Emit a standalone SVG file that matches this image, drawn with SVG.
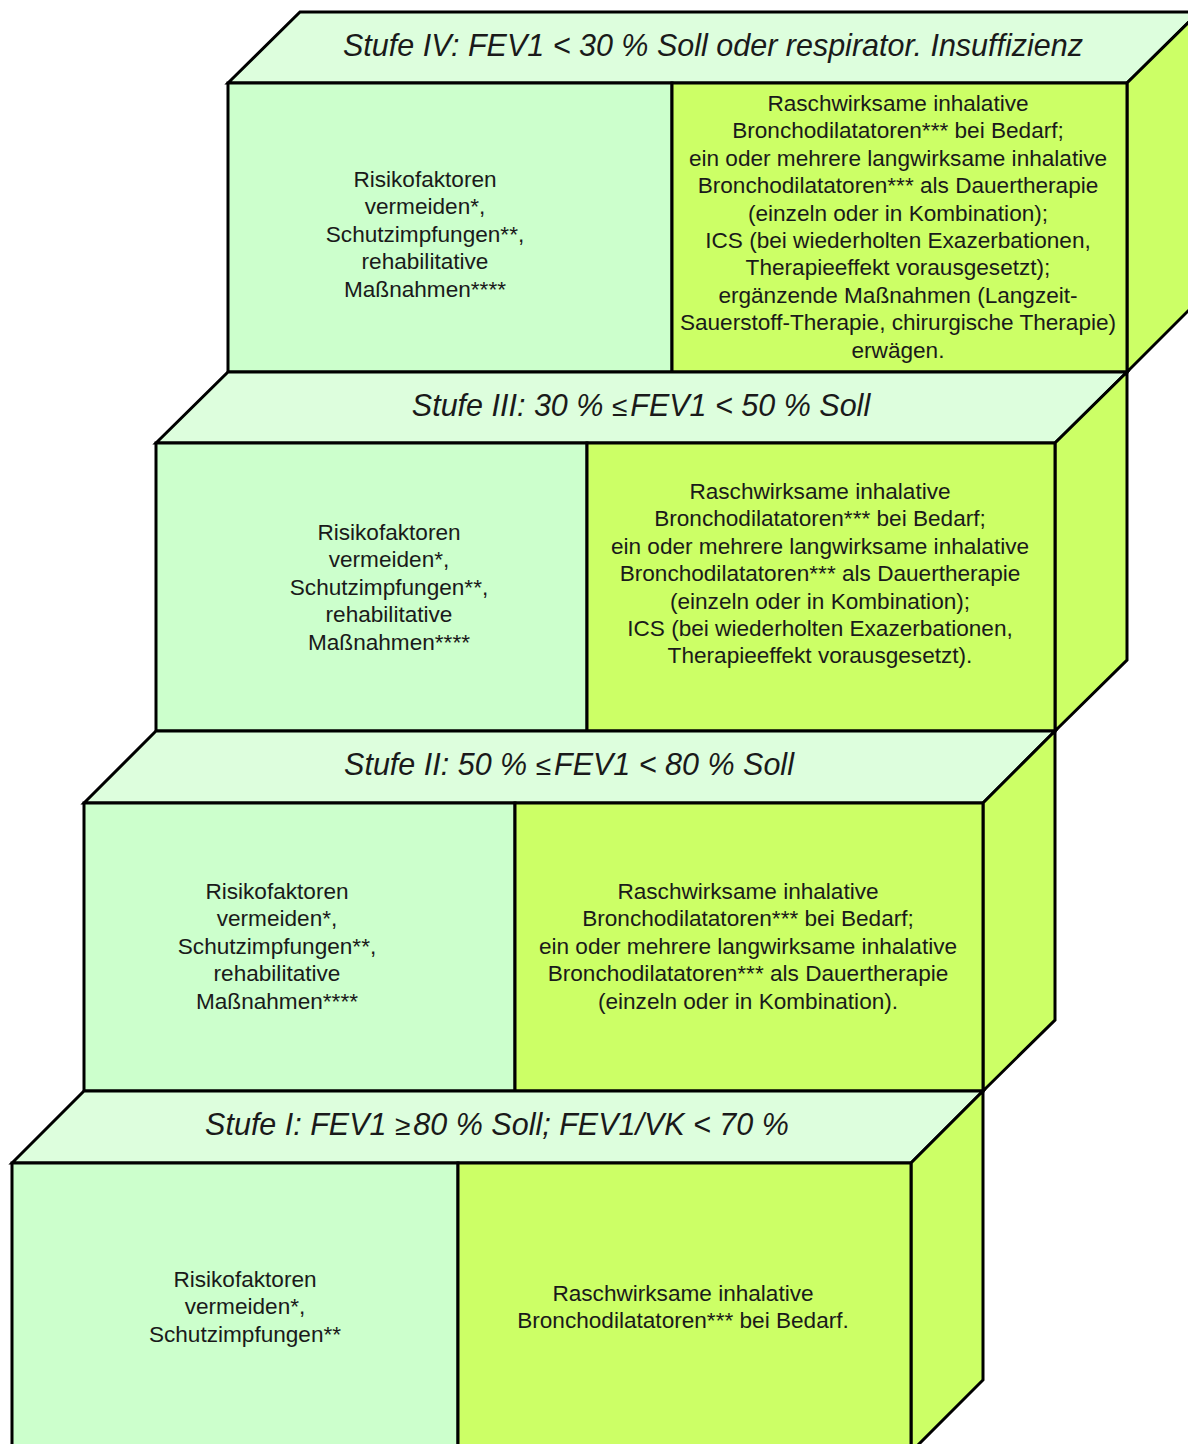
<svg xmlns="http://www.w3.org/2000/svg" width="1188" height="1444" viewBox="0 0 1188 1444">
<style>
.top{fill:#ddfedd;stroke:#000;stroke-width:3;stroke-linejoin:miter}
.fl{fill:#ccffcc;stroke:#000;stroke-width:3}
.fr{fill:#ccff66;stroke:#000;stroke-width:3}
.side{fill:#ccff66;stroke:#000;stroke-width:3;stroke-linejoin:miter}
.h{font-family:"Liberation Sans",Arial,sans-serif;font-style:italic;font-size:30.5px;fill:#1a1a1a;text-anchor:middle}
.sym{font-style:normal;font-family:"Liberation Sans",Arial,sans-serif;font-size:28px}
.t{font-family:"Liberation Sans",Arial,sans-serif;font-size:22.6px;fill:#1a1a1a;text-anchor:middle}
</style>
<rect width="1188" height="1444" fill="#ffffff"/>

<g id="stufe4">
<polygon class="top" points="228,83 300,12 1199,12 1127,83"/>
<polygon class="side" points="1127,83 1199,12 1199,300 1127,372"/>
<rect class="fl" x="228" y="83" width="444" height="289"/>
<rect class="fr" x="672" y="83" width="455" height="289"/>
<text class="h" x="713" y="56">Stufe IV: FEV1 &lt; 30 % Soll oder respirator. Insuffizienz</text>
<text class="t" x="425" y="187">Risikofaktoren</text>
<text class="t" x="425" y="214.4">vermeiden*,</text>
<text class="t" x="425" y="241.8">Schutzimpfungen**,</text>
<text class="t" x="425" y="269.2">rehabilitative</text>
<text class="t" x="425" y="296.6">Maßnahmen****</text>
<text class="t" x="898" y="111">Raschwirksame inhalative</text>
<text class="t" x="898" y="138.4">Bronchodilatatoren*** bei Bedarf;</text>
<text class="t" x="898" y="165.8">ein oder mehrere langwirksame inhalative</text>
<text class="t" x="898" y="193.2">Bronchodilatatoren*** als Dauertherapie</text>
<text class="t" x="898" y="220.6">(einzeln oder in Kombination);</text>
<text class="t" x="898" y="248">ICS (bei wiederholten Exazerbationen,</text>
<text class="t" x="898" y="275.4">Therapieeffekt vorausgesetzt);</text>
<text class="t" x="898" y="302.8">ergänzende Maßnahmen (Langzeit-</text>
<text class="t" x="898" y="330.2">Sauerstoff-Therapie, chirurgische Therapie)</text>
<text class="t" x="898" y="357.6">erwägen.</text>
</g>

<g id="stufe3">
<polygon class="top" points="156,443 228,372 1127,372 1055,443"/>
<polygon class="side" points="1055,443 1127,372 1127,660 1055,731"/>
<rect class="fl" x="156" y="443" width="431" height="288"/>
<rect class="fr" x="587" y="443" width="468" height="288"/>
<text class="h" x="641" y="416">Stufe III: 30 % <tspan class="sym">≤</tspan><tspan dx="3">FEV1 &lt; 50 % Soll</tspan></text>
<text class="t" x="389" y="540">Risikofaktoren</text>
<text class="t" x="389" y="567.4">vermeiden*,</text>
<text class="t" x="389" y="594.8">Schutzimpfungen**,</text>
<text class="t" x="389" y="622.2">rehabilitative</text>
<text class="t" x="389" y="649.6">Maßnahmen****</text>
<text class="t" x="820" y="499">Raschwirksame inhalative</text>
<text class="t" x="820" y="526.4">Bronchodilatatoren*** bei Bedarf;</text>
<text class="t" x="820" y="553.8">ein oder mehrere langwirksame inhalative</text>
<text class="t" x="820" y="581.2">Bronchodilatatoren*** als Dauertherapie</text>
<text class="t" x="820" y="608.6">(einzeln oder in Kombination);</text>
<text class="t" x="820" y="636">ICS (bei wiederholten Exazerbationen,</text>
<text class="t" x="820" y="663.4">Therapieeffekt vorausgesetzt).</text>
</g>

<g id="stufe2">
<polygon class="top" points="84,803 156,731 1055,731 983,803"/>
<polygon class="side" points="983,803 1055,731 1055,1020 983,1091"/>
<rect class="fl" x="84" y="803" width="431" height="288"/>
<rect class="fr" x="515" y="803" width="468" height="288"/>
<text class="h" x="569" y="775">Stufe II: 50 % <tspan class="sym">≤</tspan><tspan dx="3">FEV1 &lt; 80 % Soll</tspan></text>
<text class="t" x="277" y="899">Risikofaktoren</text>
<text class="t" x="277" y="926.4">vermeiden*,</text>
<text class="t" x="277" y="953.8">Schutzimpfungen**,</text>
<text class="t" x="277" y="981.2">rehabilitative</text>
<text class="t" x="277" y="1008.6">Maßnahmen****</text>
<text class="t" x="748" y="899">Raschwirksame inhalative</text>
<text class="t" x="748" y="926.4">Bronchodilatatoren*** bei Bedarf;</text>
<text class="t" x="748" y="953.8">ein oder mehrere langwirksame inhalative</text>
<text class="t" x="748" y="981.2">Bronchodilatatoren*** als Dauertherapie</text>
<text class="t" x="748" y="1008.6">(einzeln oder in Kombination).</text>
</g>

<g id="stufe1">
<polygon class="top" points="12,1163 84,1091 983,1091 911,1163"/>
<polygon class="side" points="911,1163 983,1091 983,1380 911,1452"/>
<rect class="fl" x="12" y="1163" width="446" height="289"/>
<rect class="fr" x="458" y="1163" width="453" height="289"/>
<text class="h" x="497" y="1135">Stufe I: FEV1 <tspan class="sym">≥</tspan><tspan dx="3">80 % Soll; FEV1/VK &lt; 70 %</tspan></text>
<text class="t" x="245" y="1287">Risikofaktoren</text>
<text class="t" x="245" y="1314.4">vermeiden*,</text>
<text class="t" x="245" y="1341.8">Schutzimpfungen**</text>
<text class="t" x="683" y="1301">Raschwirksame inhalative</text>
<text class="t" x="683" y="1328.4">Bronchodilatatoren*** bei Bedarf.</text>
</g>
</svg>
